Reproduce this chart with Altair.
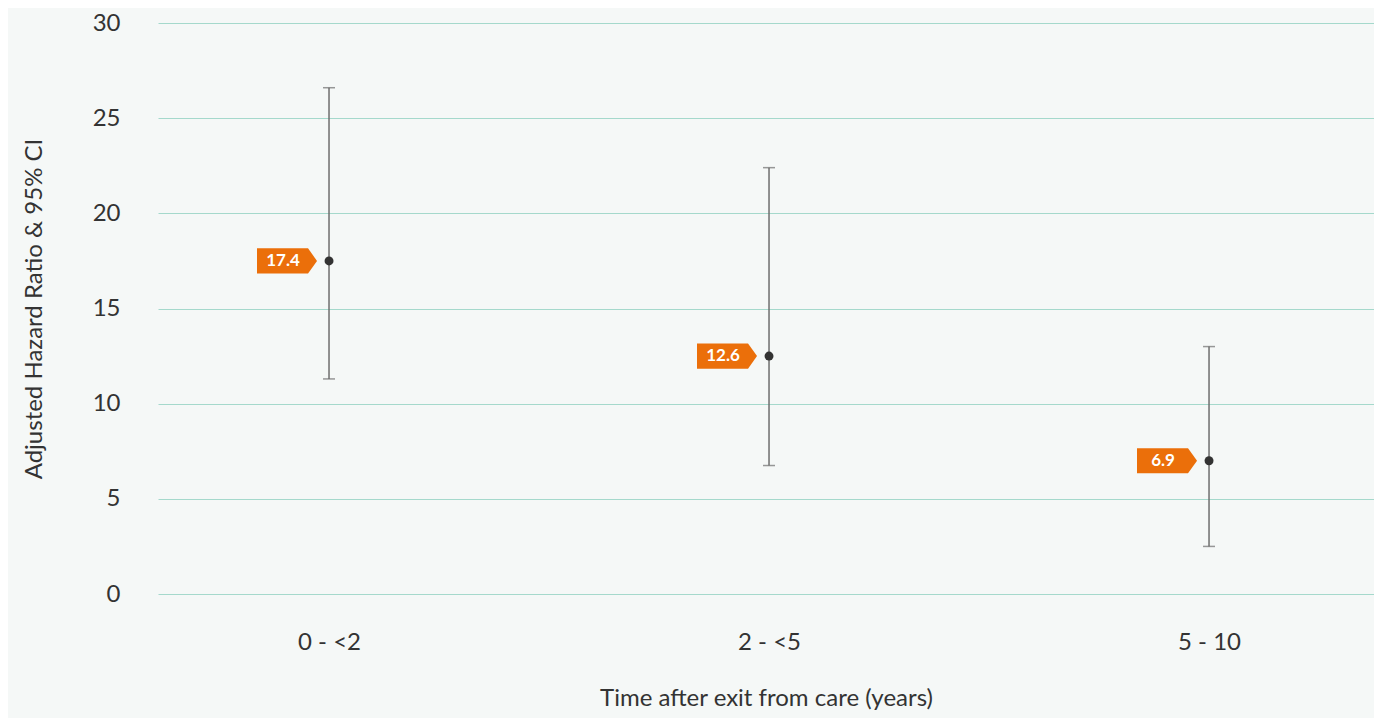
import altair as alt
import pandas as pd

categories = ["0 - <2", "2 - <5", "5 - 10"]
hazard = [17.5, 12.5, 7.0]
ci_low = [11.3, 6.75, 2.5]
ci_high = [26.6, 22.4, 13.0]
labels = ["17.4", "12.6", "6.9"]

df = pd.DataFrame({"cat": categories, "hr": hazard, "lo": ci_low, "hi": ci_high, "lab": labels})

FONT = "Lato"
x_scale = alt.Scale(type="point", padding=0.3818, align=0.509)
x_enc = alt.X("cat:N", sort=categories, title="Time after exit from care (years)",
              scale=x_scale,
              axis=alt.Axis(labelAngle=0, labelFontSize=24, labelColor="#333333", labelPadding=36,
                            titleFontSize=24, titleColor="#333333", titleFontWeight="normal",
                            titlePadding=32, domain=False, ticks=False, grid=False, labelFont=FONT,
                            titleFont=FONT))
y_scale = alt.Scale(domain=[0, 30], nice=False)
y_axis = alt.Axis(values=[0, 5, 10, 15, 20, 25, 30], labelFontSize=24, labelColor="#333333",
                  labelPadding=38, titleFontSize=24, titleColor="#333333", titleFontWeight="normal",
                  titlePadding=46, domain=False, ticks=False, grid=True, gridColor="#a5d9cc",
                  gridWidth=1, labelFont=FONT, titleFont=FONT)

base = alt.Chart(df)

err = base.mark_rule(color="#6e6e6e", strokeWidth=1.5).encode(
    x=x_enc,
    y=alt.Y("lo:Q", scale=y_scale, axis=y_axis, title="Adjusted Hazard Ratio & 95% CI"),
    y2="hi:Q",
)
cap_hi = base.mark_tick(color="#6e6e6e", thickness=1.5, size=12, orient="horizontal").encode(
    x=alt.X("cat:N", sort=categories), y=alt.Y("hi:Q"))
cap_lo = base.mark_tick(color="#6e6e6e", thickness=1.5, size=12, orient="horizontal").encode(
    x=alt.X("cat:N", sort=categories), y=alt.Y("lo:Q"))
pts = base.mark_point(filled=True, color="#333333", size=80, opacity=1).encode(
    x=alt.X("cat:N", sort=categories), y=alt.Y("hr:Q"))
tag = base.mark_point(filled=True, color="#eb6f0a", opacity=1, size=3600, xOffset=-42,
                      shape="M-1,-0.42L0.7,-0.42L1,0L0.7,0.42L-1,0.42Z").encode(
    x=alt.X("cat:N", sort=categories), y=alt.Y("hr:Q"))
txt = base.mark_text(color="white", fontSize=17, fontWeight="bold", font=FONT, xOffset=-46,
                     baseline="middle", align="center").encode(
    x=alt.X("cat:N", sort=categories), y=alt.Y("hr:Q"), text="lab:N")

chart = (err + cap_hi + cap_lo + pts + tag + txt).properties(
    width=1216, height=571,
    background="#f5f8f7",
    autosize=alt.AutoSizeParams(type="none"),
    padding={"left": 150, "top": 15, "right": 0, "bottom": 124},
).configure_view(stroke=None)

chart.save("out.html", embed_options={"renderer": "svg", "actions": False})
